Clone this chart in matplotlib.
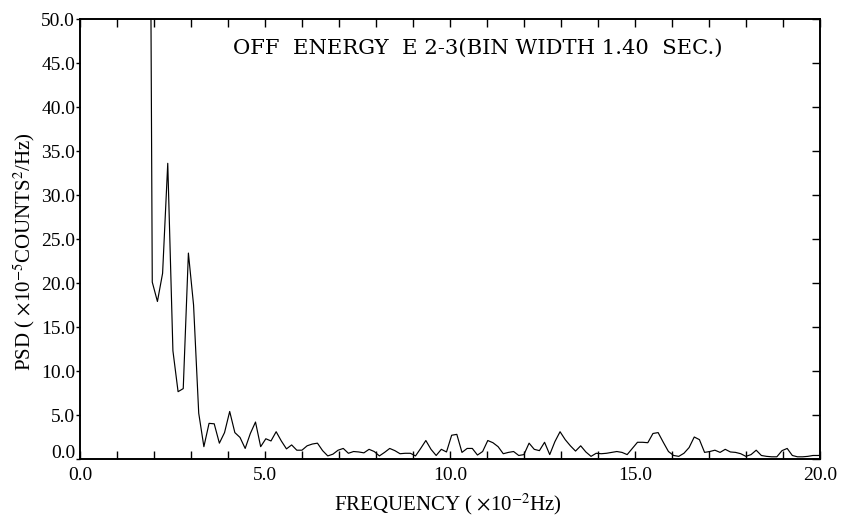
import numpy as np
import matplotlib
matplotlib.use('Agg')
import matplotlib.pyplot as plt
import matplotlib.transforms as mtransforms

plt.rcParams['font.family'] = ['Liberation Serif', 'DejaVu Serif']
plt.rcParams['mathtext.fontset'] = 'stix'

# ── Spectrum: 512-point FFT of 1.40 s bins, frequency in units of 1e-2 Hz ─────
BIN_SEC = 1.40
N_FFT   = 512
DF      = 100.0 / (N_FFT * BIN_SEC)      # 0.1395 (x1e-2 Hz)
K_START = 13                              # first bin plotted (lower bins off-scale)

psd = [
    140.0, 20.1, 17.9, 21.1, 33.6, 12.3, 7.65, 8.0, 23.4, 17.5,      # k=13..22
    5.2, 1.4, 4.05, 4.0, 1.8, 3.0, 5.4, 3.0, 2.45, 1.2,              # k=23..32
    2.9, 4.2, 1.4, 2.3, 2.05, 3.1, 2.05, 1.15, 1.6, 1.0,             # k=33..42
    1.0, 1.5, 1.7, 1.8, 0.95, 0.35, 0.55, 1.0, 1.2, 0.65,            # k=43..52
    0.85, 0.8, 0.7, 1.1, 0.85, 0.35, 0.75, 1.2, 0.95, 0.6,           # k=53..62
    0.65, 0.65, 0.35, 1.2, 2.1, 1.1, 0.4, 1.1, 0.8, 2.7,             # k=63..72
    2.8, 0.75, 1.2, 1.2, 0.45, 0.85, 2.1, 1.85, 1.4, 0.6,            # k=73..82
    0.75, 0.85, 0.4, 0.5, 1.8, 1.1, 0.95, 1.9, 0.5, 1.97,            # k=83..92
    3.1, 2.2, 1.5, 0.9, 1.5, 0.8, 0.3, 0.65, 0.6, 0.65,              # k=93..102
    0.75, 0.85, 0.75, 0.5, 1.2, 1.9, 1.9, 1.85, 2.9, 3.0,            # k=103..112
    1.9, 0.85, 0.4, 0.3, 0.65, 1.3, 2.5, 2.2, 0.75, 0.85,            # k=113..122
    1.0, 0.75, 1.1, 0.8, 0.75, 0.6, 0.3, 0.5, 1.0, 0.4,              # k=123..132
    0.3, 0.25, 0.25, 0.95, 1.2, 0.4, 0.25, 0.25, 0.3, 0.4,           # k=133..142
    0.4, 0.45,                                                       # k=143..144
]
psd  = np.array(psd)
freq = (K_START + np.arange(len(psd))) * DF

x_major = [0, 5, 10, 15, 20]
x_labels = ['0.0', '5.0', '10.0', '15.0', '20.0']
y_major = [0, 5, 10, 15, 20, 25, 30, 35, 40, 45, 50]
y_labels = ['%.1f' % v for v in y_major]

title_txt = 'OFF  ENERGY  E 2-3(BIN WIDTH 1.40  SEC.)'
xlabel_txt = r'FREQUENCY ( $\times$10$^{-2}$Hz)'
ylabel_txt = r'PSD ( $\times$10$^{-5}$COUNTS$^{2}$/Hz)'

fig = plt.figure(figsize=(8.42, 5.17), dpi=100)
ax = fig.add_axes([80 / 842, 1 - 459 / 517, 740 / 842, 440 / 517])

ax.plot(freq, psd, color='black', lw=0.85)
ax.set_xlim(0, 20)
ax.set_ylim(0, 50)

for s in ax.spines.values():
    s.set_linewidth(1.2)

# x: ticks every 1 on bottom and top, pointing in
ax.set_xticks(x_major)
ax.set_xticklabels(x_labels)
ax.set_xticks(np.arange(0, 21, 1), minor=True)
ax.tick_params(axis='x', which='both', direction='in', top=True, bottom=True,
               length=6, width=1.0, labelsize=14, pad=6)

# y: short outward ticks on the left, inward ticks on the right
ax.set_yticks(y_major)
ax.set_yticklabels(y_labels)
ax.tick_params(axis='y', which='major', direction='out', left=True, right=False,
               length=3, width=1.0, labelsize=14, pad=0.5)
ax2 = ax.twinx()
ax2.set_ylim(ax.get_ylim())
ax2.set_yticks(y_major)
ax2.tick_params(axis='y', direction='in', length=6, width=1.0, labelright=False)
for s in ax2.spines.values():
    s.set_linewidth(1.2)

# lift the "0.0" y label clear of the x labels
lbl0 = ax.get_yticklabels()[0]
lbl0.set_transform(lbl0.get_transform() +
                   mtransforms.ScaledTranslation(0, 7 / 100, fig.dpi_scale_trans))

ax.text(0.207, 0.934, title_txt, transform=ax.transAxes, fontsize=15.2,
        family='DejaVu Serif', ha='left', va='center')
fig.text(448 / 842, 1 - 504 / 517, xlabel_txt, fontsize=15, ha='center', va='center')
fig.text(24 / 842, 1 - 252 / 517, ylabel_txt, fontsize=15, ha='center', va='center',
         rotation=90)

fig.savefig('out.png', dpi=100)
